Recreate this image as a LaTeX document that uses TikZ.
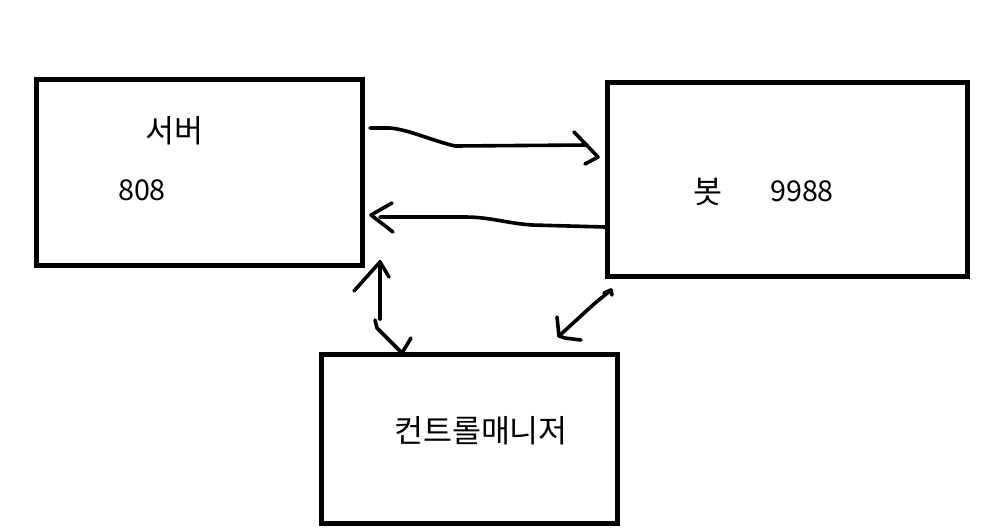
\documentclass[tikz,border=0pt]{standalone}
\usepackage{fontspec}
\newfontfamily\krfont{Noto Sans CJK KR}
\setmainfont{Noto Sans CJK KR}
\begin{document}
\begin{tikzpicture}[x=1pt,y=-1pt,
  box/.style={draw=black,line width=5pt,inner sep=0pt,outer sep=0pt,rectangle},
  lbl/.style={font=\fontsize{31.5}{34}\selectfont\krfont,inner sep=0pt,anchor=center},
  num/.style={font=\fontsize{28.7}{32}\selectfont\krfont,inner sep=0pt,anchor=center},
  stroke/.style={draw=black,line width=3.6pt,line cap=round,line join=round}]
\useasboundingbox (0,0) rectangle (994,531);
% boxes
\node[box,minimum width=325.5pt,minimum height=185.5pt] (srv) at (199.25,172.25) {};
\node[box,minimum width=360.5pt,minimum height=194.5pt] (bot) at (787.25,179.25) {};
\node[box,minimum width=296pt,minimum height=169pt] (cm) at (469.5,438.5) {};
% labels
\node[lbl] (t1) at (174,131) {서버};
\node[num] (t2) at (142,190) {808};
\node[lbl] (t3) at (708,192) {봇};
\node[num] (t4) at (802,191) {9988};
\node[lbl] (t5) at (481,431) {컨트롤매니저};
% connector end points
\coordinate (a1s) at (370,128);
\coordinate (a1e) at (598,157);
\coordinate (a2s) at (605,227);
\coordinate (a2e) at (371,215);
\coordinate (a3t) at (380,262);
\coordinate (a3b) at (402,353);
\coordinate (a4t) at (611,290);
\coordinate (a4b) at (559,336);
% server -> bot
\draw[stroke] (a1s) -- (390,128) .. controls (410,130) and (430,140) .. (455,146) -- (587,145);
\draw[stroke] (574,132) -- (a1e) -- (585,164);
% bot -> server
\draw[stroke] (a2s) -- (532,225) .. controls (505,223) and (490,217) .. (465,217) -- (380,217);
\draw[stroke] (392,203) -- (a2e) -- (393,232);
% server <-> control manager
\draw[stroke] (a3t) -- (380,319);
\draw[stroke] (354,291) -- (a3t) -- (389,277);
\draw[stroke] (375,320) -- (377,328) -- (a3b);
\draw[stroke] (411,338) -- (a3b);
% bot <-> control manager
\draw[stroke] (a4t) -- (594,304) -- (a4b);
\draw[stroke] (604,293) -- (a4t) -- (612,295);
\draw[stroke] (557,317) -- (a4b) -- (565,338) -- (581,340);
\end{tikzpicture}
\end{document}
